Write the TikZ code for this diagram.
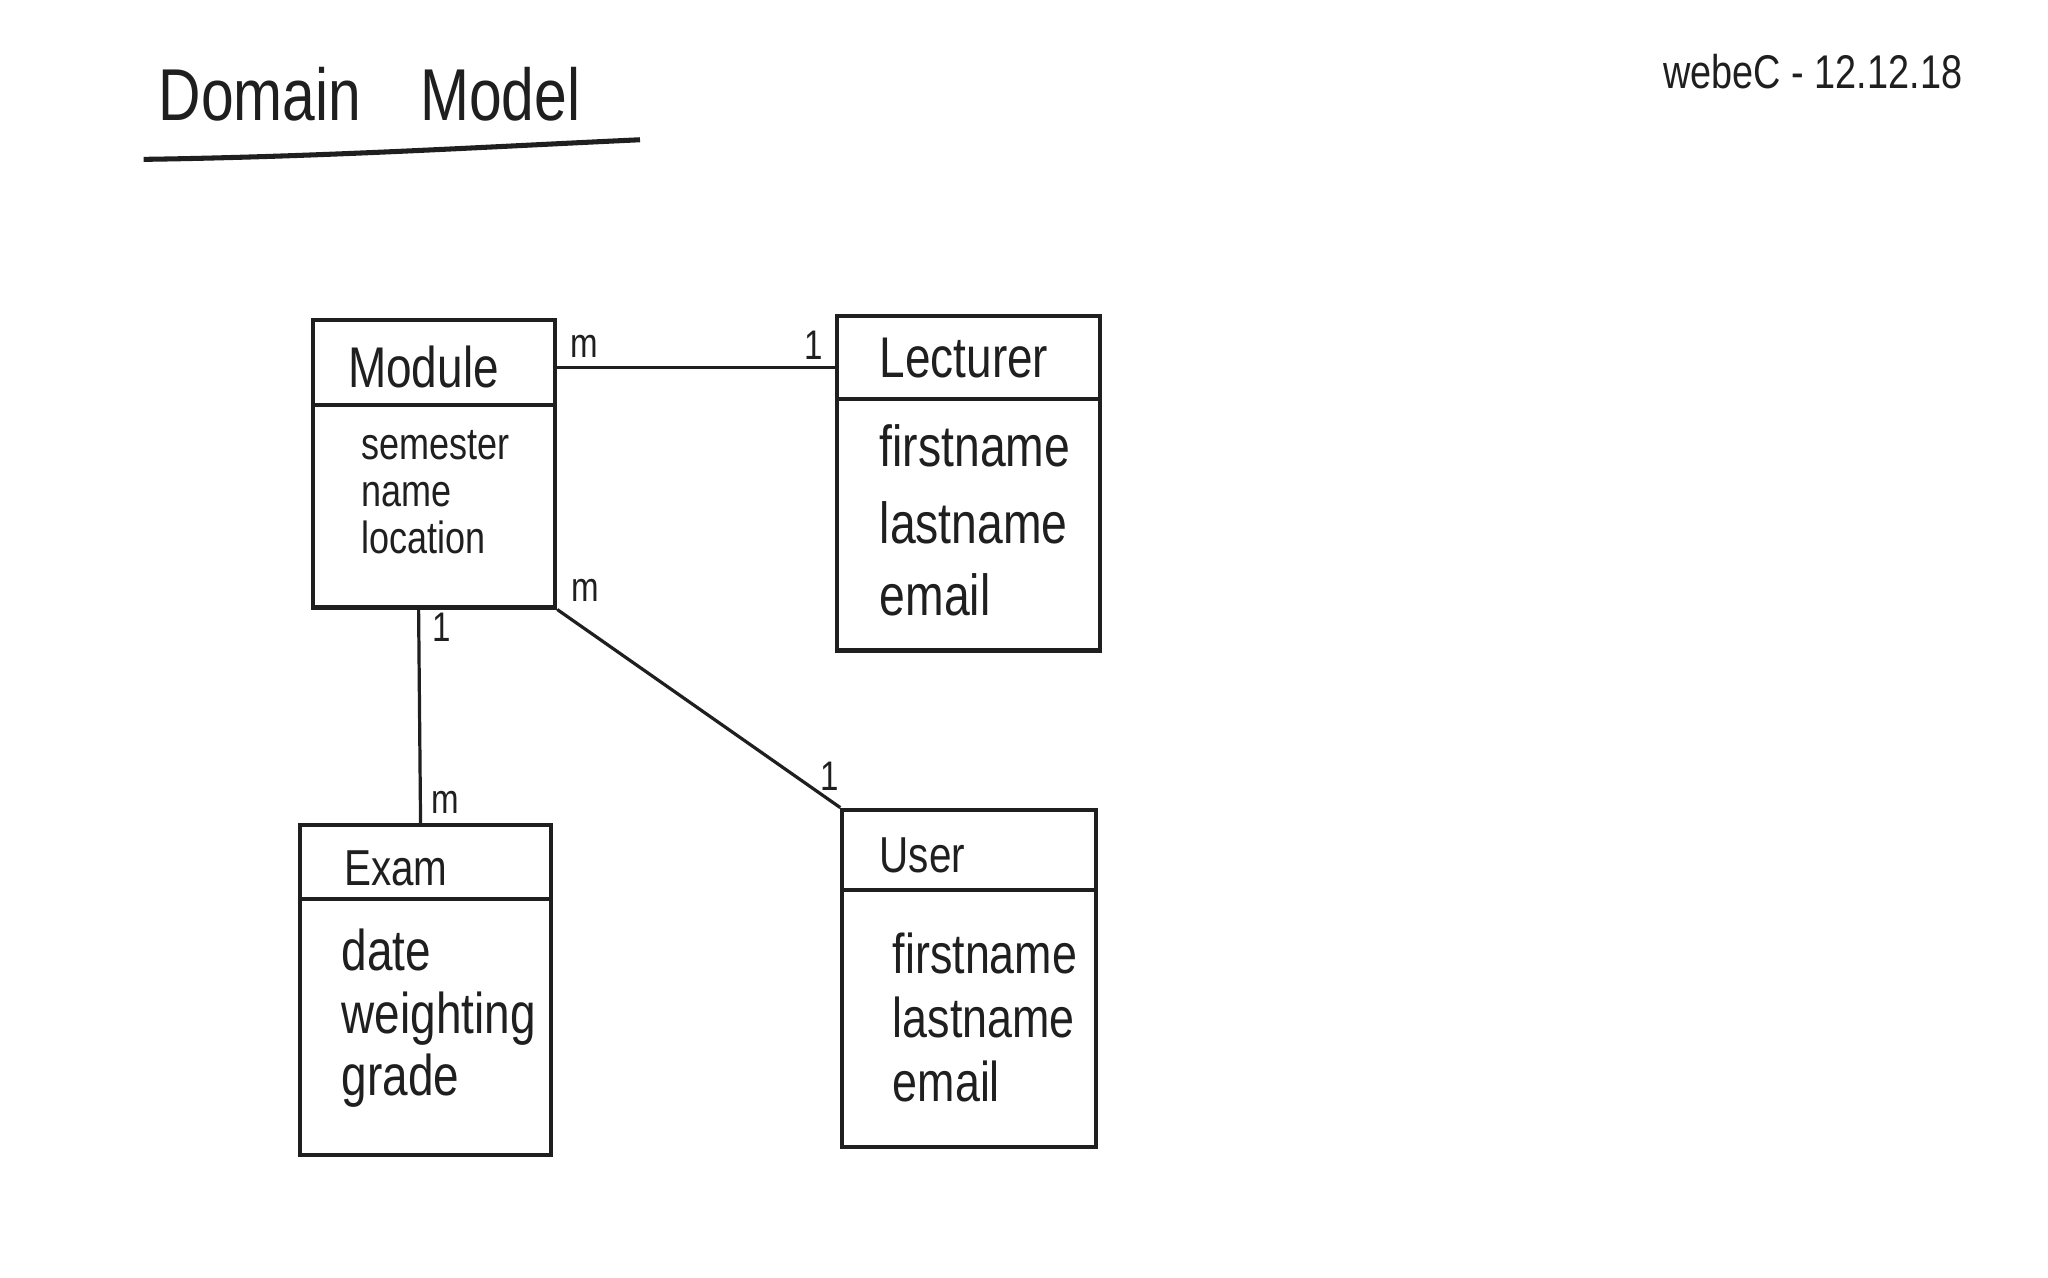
\documentclass[tikz,border=0pt]{standalone}
\usepackage{fontspec}
\setmainfont{Liberation Sans}[FakeStretch=0.8]
\begin{document}
\begin{tikzpicture}[x=0.01cm,y=-0.01cm,line width=0.9pt,color=black!88,
	box/.style={draw,rectangle,inner sep=0pt},
	ttl/.style={anchor=base west,inner sep=0pt,font=\fontsize{12.5}{14}\selectfont},
	attr/.style={anchor=base west,inner sep=0pt},
	mult/.style={inner sep=0pt,font=\fontsize{9}{10}\selectfont},
	link/.style={line width=0.7pt}]
	%\draw[step=50,gray!20] (0,0) grid (1568,978); %Raster
	\useasboundingbox (0,0) rectangle (1568,978);
	\node[anchor=base west,inner sep=0pt,font=\fontsize{16}{18}\selectfont] (title) at (120,92) {Domain\hspace{0.8em}Model};
	\draw[line width=1.1pt] (110,122) .. controls (250,120) and (380,112) .. (490,107);
	\node[anchor=base west,inner sep=0pt,font=\fontsize{10.3}{12}\selectfont] (date) at (1272,68) {webeC - 12.12.18};
	
	\node[box,minimum width=1.85cm,minimum height=2.2cm] (module) at (332.5,355) {};
	\node[box,minimum width=2.01cm,minimum height=2.56cm] (lecturer) at (741.5,370) {};
	\node[box,minimum width=1.92cm,minimum height=2.52cm] (exam) at (326,758) {};
	\node[box,minimum width=1.94cm,minimum height=2.58cm] (user) at (742,749) {};
	\draw ([yshift=-0.67cm]module.north west) -- ([yshift=-0.67cm]module.north east);
	\draw ([yshift=-0.65cm]lecturer.north west) -- ([yshift=-0.65cm]lecturer.north east);
	\draw ([yshift=-0.58cm]exam.north west) -- ([yshift=-0.58cm]exam.north east);
	\draw ([yshift=-0.63cm]user.north west) -- ([yshift=-0.63cm]user.north east);
	
	\node[ttl] (modtitle) at (265,297) {Module}; \node[ttl] (lectitle) at (672,289) {Lecturer};
	\node[ttl,font=\fontsize{11}{13}\selectfont] (examtitle) at (262,678) {Exam}; \node[ttl,font=\fontsize{11}{13}\selectfont] (usertitle) at (672,668) {User};
	
	\foreach \t [count=\i] in {semester,name,location} \node[attr,font=\fontsize{9.8}{12}\selectfont] (modattr\i) at (275,{316+36*\i}) {\t};
	\foreach \t/\y [count=\i] in {firstname/357,lastname/416,email/471} \node[attr,font=\fontsize{12.6}{15}\selectfont] (lecattr\i) at (672,\y) {\t};
	\foreach \t [count=\i] in {date,weighting,grade} \node[attr,font=\fontsize{12.5}{15}\selectfont] (examattr\i) at (260,{695+48*\i}) {\t};
	\foreach \t [count=\i] in {firstname,lastname,email} \node[attr,font=\fontsize{12.2}{15}\selectfont] (userattr\i) at (682,{696+49*\i}) {\t};
	
	\draw[link] (module.east |- modtitle.center) -- (lecturer.west |- modtitle.center);
	\node[mult] (m1) at (447,265) {m}; \node[mult] (n1) at (623,264) {1};
	\draw[link] ([xshift=-0.12cm]module.south) -- ([xshift=-0.04cm]exam.north);
	\node[mult] (n2) at (338,480) {1}; \node[mult] (m2) at (341,614) {m};
	\draw[link] (module.south east) -- (user.north west);
	\node[mult] (m3) at (448,452) {m}; \node[mult] (n3) at (635,594) {1};
\end{tikzpicture}
\end{document}
